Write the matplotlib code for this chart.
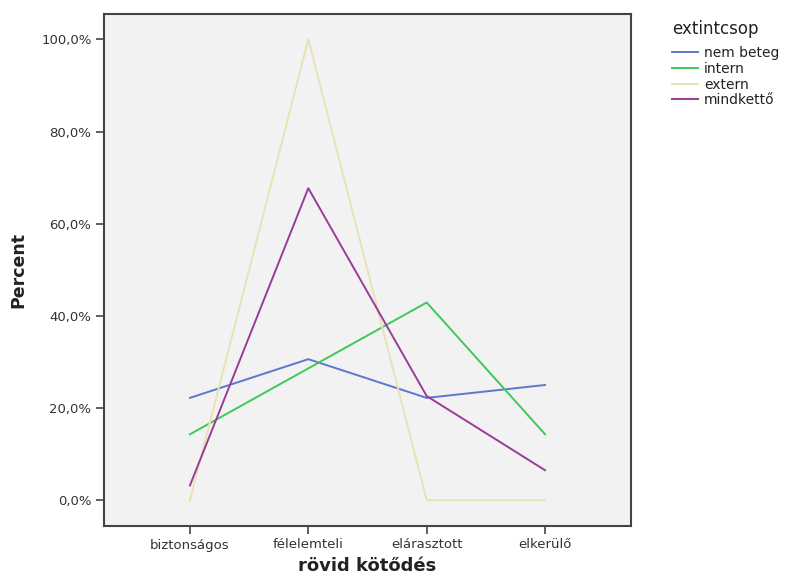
import matplotlib
matplotlib.use("Agg")
import matplotlib.pyplot as plt
from matplotlib.ticker import FuncFormatter

categories = ["biztonságos", "félelemteli", "elárasztott", "elkerülő"]
series_names = ["nem beteg", "intern", "extern", "mindkettő"]
nem_beteg = [22.2, 30.6, 22.2, 25.0]
intern = [14.3, 28.6, 42.9, 14.3]
extern = [0.0, 100.0, 0.0, 0.0]
mindketto = [3.2, 67.7, 22.6, 6.5]
series_values = [nem_beteg, intern, extern, mindketto]
colors = ["#5b78cf", "#3ec85a", "#e8e2b4", "#993c99"]

fig = plt.figure(figsize=(7.86, 5.77), dpi=100)
ax = fig.add_axes([104/786, 51/577, (631-104)/786, (526-14)/577])
ax.set_facecolor("#f2f2f2")

x = list(range(len(categories)))
for name, vals, c in zip(series_names, series_values, colors):
    ax.plot(x, vals, color=c, lw=1.4, label=name)

ax.set_xlim(-0.726, len(categories) - 1 + 0.726)
ax.set_ylim(-5.6, 105.5)
ax.set_xticks(x)
ax.set_xticklabels(categories)
ax.set_yticks([0, 20, 40, 60, 80, 100])
ax.yaxis.set_major_formatter(FuncFormatter(lambda v, p: f"{v:.1f}%".replace(".", ",")))

for s in ax.spines.values():
    s.set_color("#444444")
    s.set_linewidth(1.5)
ax.tick_params(axis="both", direction="out", length=6, width=1.2, color="#444444",
               labelsize=9.5, labelcolor="#333333", pad=3)

ax.set_xlabel("rövid kötődés", fontsize=13, fontweight="bold", labelpad=4, color="#222222")
ax.set_ylabel("Percent", fontsize=12.5, fontweight="bold", labelpad=10, color="#222222")

leg = ax.legend(loc="upper left", bbox_to_anchor=(672/786, 1 - 20/577),
                bbox_transform=fig.transFigure, frameon=False, title="extintcsop",
                fontsize=10, title_fontsize=12, handlelength=1.9, handletextpad=0.4,
                labelspacing=0.12, borderaxespad=0, borderpad=0)
leg._legend_box.align = "left"
leg._legend_box.sep = 6
for t in leg.get_texts():
    t.set_color("#222222")
leg.get_title().set_color("#222222")

fig.savefig("out.png", dpi=100)
